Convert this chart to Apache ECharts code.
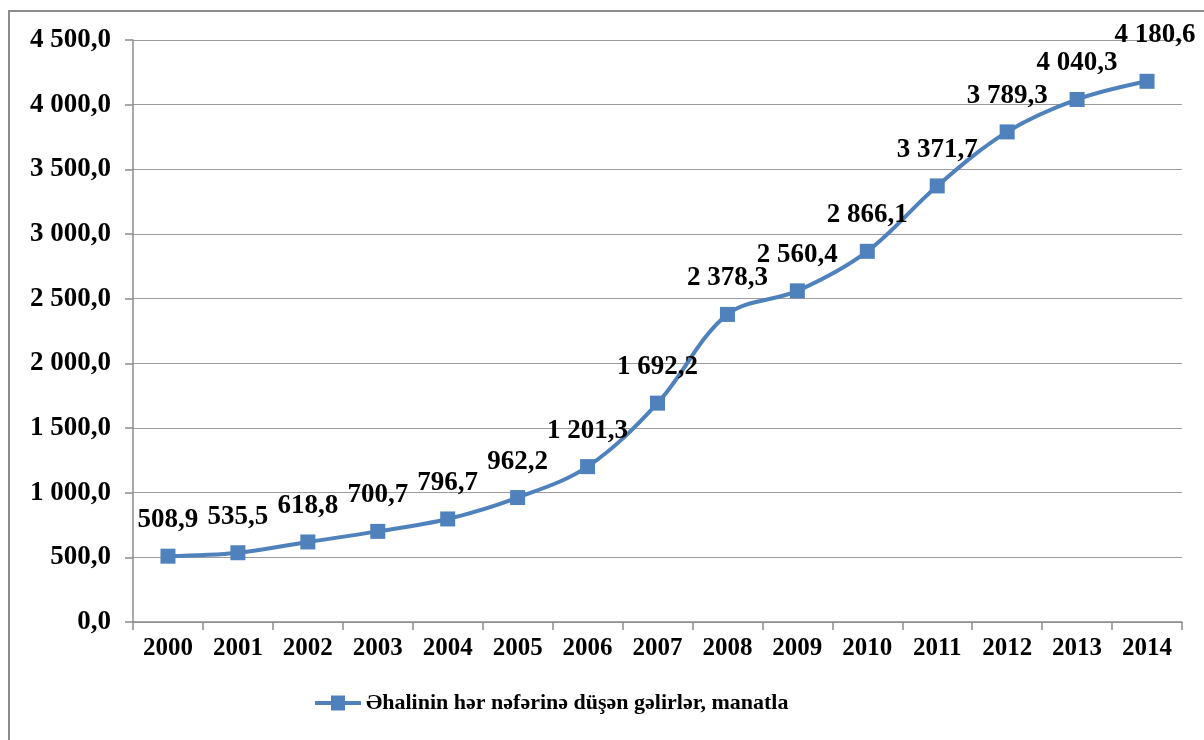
<!DOCTYPE html>
<html>
<head>
<meta charset="utf-8">
<script src="https://cdn.jsdelivr.net/npm/echarts@6/dist/echarts.min.js"></script>
<style>
html,body{margin:0;padding:0;background:#fff;}
#c{width:1204px;height:740px;}
</style>
</head>
<body>
<div id="c"></div>
<script>
const years = ['2000','2001','2002','2003','2004','2005','2006','2007','2008','2009','2010','2011','2012','2013','2014'];
const income = [508.9, 535.5, 618.8, 700.7, 796.7, 962.2, 1201.3, 1692.2, 2378.3, 2560.4, 2866.1, 3371.7, 3789.3, 4040.3, 4180.6];
const seriesName = 'Əhalinin hər nəfərinə düşən gəlirlər, manatla';

function fmt(v) {
  const s = v.toFixed(1);
  const parts = s.split('.');
  const intPart = parts[0].replace(/\B(?=(\d{3})+(?!\d))/g, ' ');
  return intPart + ',' + parts[1];
}

const FONT = '"Liberation Serif", "DejaVu Serif", serif';
const chart = echarts.init(document.getElementById('c'));
const data = income.map((v, i) => {
  const item = { value: v };
  if (i === income.length - 1) item.label = { offset: [8, -10] };
  return item;
});
chart.setOption({
  animation: false,
  graphic: [{
    type: 'rect',
    shape: { x: 9, y: 11, width: 1400, height: 1000 },
    style: { fill: 'none', stroke: '#8c8c8c', lineWidth: 2 },
    silent: true
  }],
  grid: { left: 133, right: 22, top: 40, bottom: 118 },
  legend: {
    left: 315,
    top: 692,
    padding: 0,
    itemWidth: 46,
    itemHeight: 15,
    textStyle: { fontFamily: FONT, fontWeight: 'bold', fontSize: 22, color: '#000' },
    data: [{
      name: seriesName,
      icon: 'path://M0,5.5 L16,5.5 L16,0 L30,0 L30,5.5 L46,5.5 L46,9.5 L30,9.5 L30,15 L16,15 L16,9.5 L0,9.5 Z'
    }]
  },
  xAxis: {
    type: 'category',
    data: years,
    boundaryGap: true,
    axisLine: { lineStyle: { color: '#8c8c8c', width: 1.5 } },
    axisTick: { show: true, length: 8, lineStyle: { color: '#8c8c8c', width: 1.5 } },
    axisLabel: { fontFamily: FONT, fontWeight: 'bold', fontSize: 25, color: '#000', margin: 14 }
  },
  yAxis: {
    type: 'value',
    min: 0,
    max: 4500,
    interval: 500,
    axisLine: { show: true, lineStyle: { color: '#8c8c8c', width: 1.5 } },
    axisTick: { show: true, length: 8, lineStyle: { color: '#8c8c8c', width: 1.5 } },
    splitLine: { lineStyle: { color: '#9c9c9c', width: 1.2 } },
    axisLabel: { fontFamily: FONT, fontWeight: 'bold', fontSize: 27, color: '#000', margin: 22, formatter: fmt }
  },
  series: [{
    name: seriesName,
    type: 'line',
    data: data,
    smooth: 0.35,
    symbol: 'rect',
    symbolSize: 15,
    lineStyle: { color: '#4F81BD', width: 4 },
    itemStyle: { color: '#4F81BD' },
    label: {
      show: true,
      position: 'top',
      distance: 15,
      fontFamily: FONT,
      fontWeight: 'bold',
      fontSize: 27,
      color: '#000',
      formatter: p => fmt(p.value)
    }
  }]
});
</script>
</body>
</html>
